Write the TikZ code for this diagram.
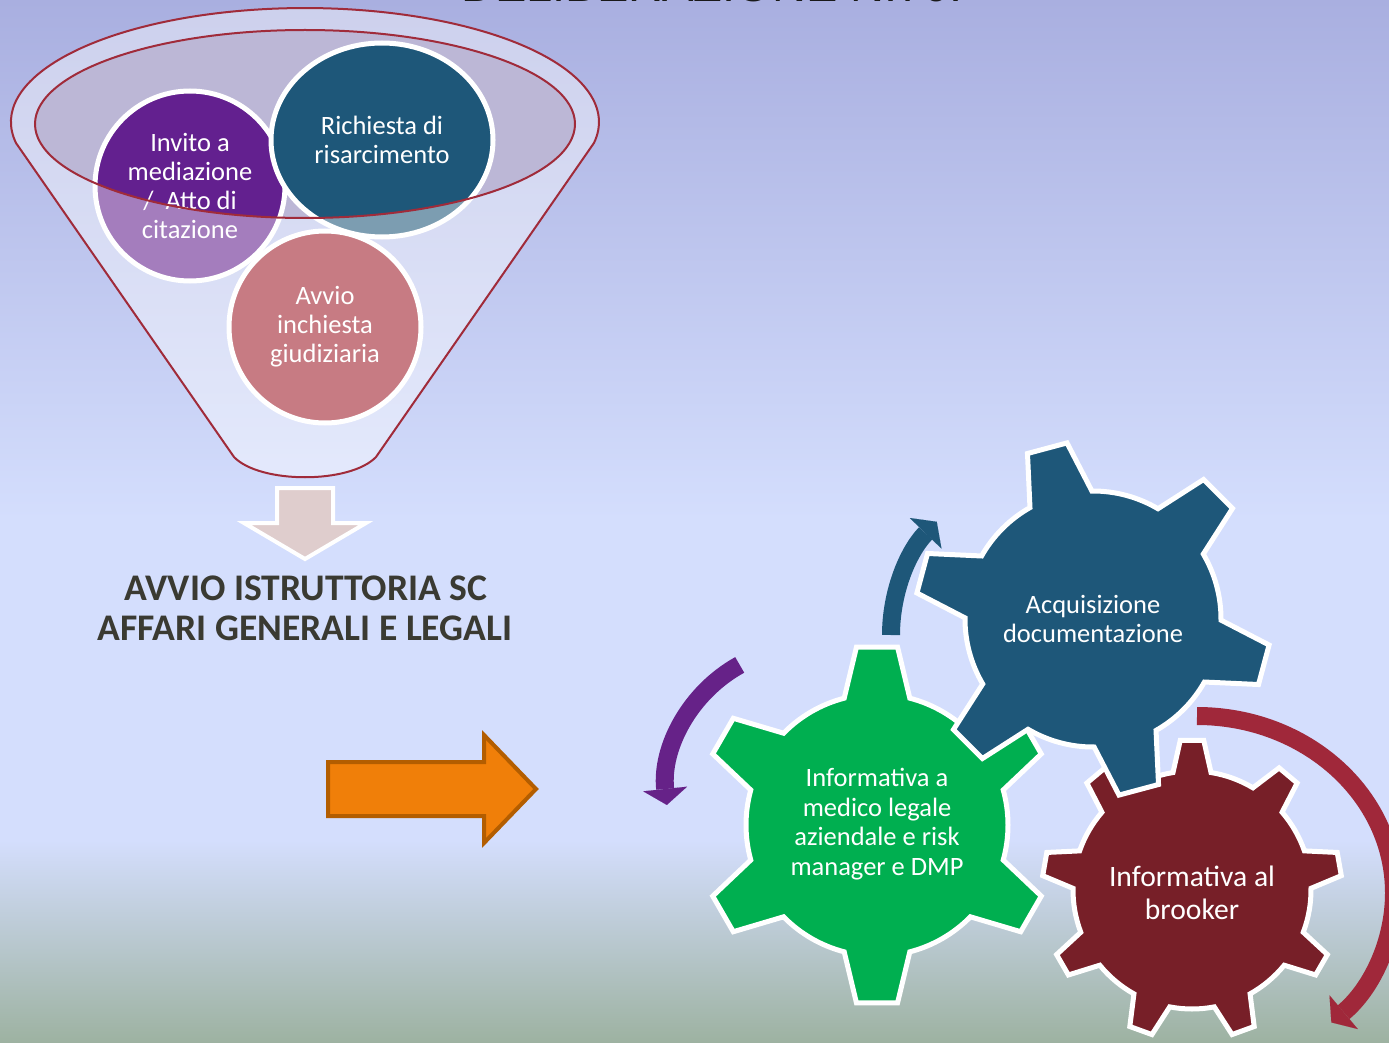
\documentclass[tikz,border=0pt]{standalone}
\usepackage{fontspec}
\setmainfont{Carlito}
\newfontfamily\titlefont{Liberation Sans}
\usetikzlibrary{arrows.meta,shapes.geometric}
\definecolor{bgtop}{HTML}{A9AFE0}
\definecolor{bgmid}{HTML}{D4DEFD}
\definecolor{bgbot}{HTML}{9DB2A1}
\definecolor{cpurple}{HTML}{63208F}
\definecolor{cblue}{HTML}{1E5779}
\definecolor{cpink}{HTML}{A01D2A}
\definecolor{cmauve}{HTML}{BCB7D6}
\definecolor{funline}{HTML}{A02B3A}
\definecolor{cgreen}{HTML}{00AF50}
\definecolor{cdred}{HTML}{771F28}
\definecolor{cparrow}{HTML}{662288}
\definecolor{crarrow}{HTML}{A0283A}
\definecolor{corange}{HTML}{F07F09}
\definecolor{corangedark}{HTML}{B35D00}
\definecolor{cdownarrow}{HTML}{DFCDCD}
\definecolor{ctexture}{HTML}{3A3A32}
\tikzset{
  circnode/.style={circle, draw=white, line width=5pt, inner sep=0pt, text=white, align=center, font=\fontsize{26.5}{29}\selectfont},
  gearstyle/.style={draw=white, line width=5pt, line join=miter},
  geartext/.style={text=white, align=center, font=\fontsize{26.5}{29.5}\selectfont, inner sep=0pt},
  funnelline/.style={draw=funline, line width=2pt},
  curvedarrow/.style={line width=18pt, -{Triangle[length=16pt, width=44pt, line width=0.01pt]}},
  bigtext/.style={anchor=base, text=ctexture, font=\bfseries\fontsize{37.6}{40}\selectfont, inner sep=0pt}
}
\newcommand{\mygear}[8]{%
  \begin{scope}[shift={#2}]
    \pgfmathsetmacro{\gstep}{360/#3}
    \pgfmathtruncatemacro{\glast}{#3-1}
    \draw[gearstyle, fill=#1] ({#6-\gstep+#7}:#4pt)
      \foreach \i in {0,...,\glast}{
        arc[start angle={#6+(\i-1)*\gstep+#7}, end angle={#6+\i*\gstep-#7}, radius=#4pt]
        -- ({#6+\i*\gstep-#8}:#5pt) -- ({#6+\i*\gstep+#8}:#5pt) -- ({#6+\i*\gstep+#7}:#4pt)
      } -- cycle;
  \end{scope}}
\begin{document}
\begin{tikzpicture}[x=1pt,y=1pt]
\useasboundingbox (0,0) rectangle (1389,-1043);
\clip (0,0) rectangle (1389,-1043);
% background
\fill[top color=bgtop, bottom color=bgmid] (0,0) rectangle (1389,-520);
\fill[bgmid] (0,-519) rectangle (1389,-841);
\fill[top color=bgmid, bottom color=bgbot] (0,-840) rectangle (1389,-1043);
% title (cut off at top, as in the reference)
\node (title) [anchor=base, inner sep=0pt, font=\titlefont\fontsize{47}{50}\selectfont, text=black!90] at (712,-2) {DELIBERAZIONE N.70.};
% funnel opening
\fill[cmauve] (305,-124) ellipse [x radius=270pt, y radius=94pt];
% circles
\node (invito) [circnode, fill=cpurple, minimum size=190pt] at (190,-186) {Invito a\\mediazione\\/~ Atto di\\citazione};
\node (richiesta) [circnode, ellipse, fill=cblue, minimum width=222pt, minimum height=194pt] at (382,-140) {Richiesta di\\risarcimento};
\node (avvio) [circnode, fill=cpink, minimum size=192pt] at (325,-327) {Avvio\\inchiesta\\giudiziaria};
% glass overlay on the funnel body
\fill[white, fill opacity=0.42, even odd rule]
  (16,-143) arc[start angle=190.6, end angle=-10.6, x radius=294pt, y radius=114pt]
  -- (376,-457) .. controls (350,-484) and (260,-484) .. (234,-457) -- cycle
  (305,-124) ellipse [x radius=270pt, y radius=94pt];
\draw[funnelline]
  (16,-143) arc[start angle=190.6, end angle=-10.6, x radius=294pt, y radius=114pt]
  -- (376,-457) .. controls (350,-484) and (260,-484) .. (234,-457) -- cycle;
\draw[funnelline] (305,-124) ellipse [x radius=270pt, y radius=94pt];
% down arrow
\draw[draw=white, line width=4pt, fill=cdownarrow, line join=miter]
  (277,-488) -- (333,-488) -- (333,-523) -- (366,-523) -- (305,-559) -- (244,-523) -- (277,-523) -- cycle;
\node (istr1) [bigtext] at (306,-600) {AVVIO ISTRUTTORIA SC};
\node (istr2) [bigtext] at (305,-640) {AFFARI GENERALI E LEGALI};
% orange arrow
\draw[draw=corangedark, line width=4pt, fill=corange, line join=miter]
  (328,-762) -- (484,-762) -- (484,-735) -- (536,-789) -- (484,-843) -- (484,-816) -- (328,-816) -- cycle;
% curved arrows
\coordinate (bA) at (891,-635);
\coordinate (pA) at (739.7,-664.9);
\coordinate (rA) at (1197,-716);
\draw[curvedarrow, cblue] (bA) arc[start angle=180, end angle=136, radius=163pt];
\draw[curvedarrow, cparrow] (pA) arc[start angle=119, end angle=186, radius=143pt];
\draw[curvedarrow, crarrow] (rA) arc[start angle=90, end angle=-47, x radius=197pt, y radius=177pt];
% gears
\mygear{cgreen}{(877,-825)}{6}{131}{179}{90}{14.5}{6.6}
\mygear{cdred}{(1192,-890)}{9}{119}{150}{90}{9.2}{4.5}
\mygear{cblue}{(1093,-619)}{6}{128}{178}{105}{14.5}{6.6}
\node (acq) [geartext] at (1093,-619) {Acquisizione\\documentazione};
\node (inf) [geartext] at (877,-824) {Informativa a\\medico legale\\aziendale e risk\\manager e DMP};
\node (brok) [geartext, font=\fontsize{29.6}{33}\selectfont] at (1192,-893) {Informativa al\\brooker};
\end{tikzpicture}
\end{document}
